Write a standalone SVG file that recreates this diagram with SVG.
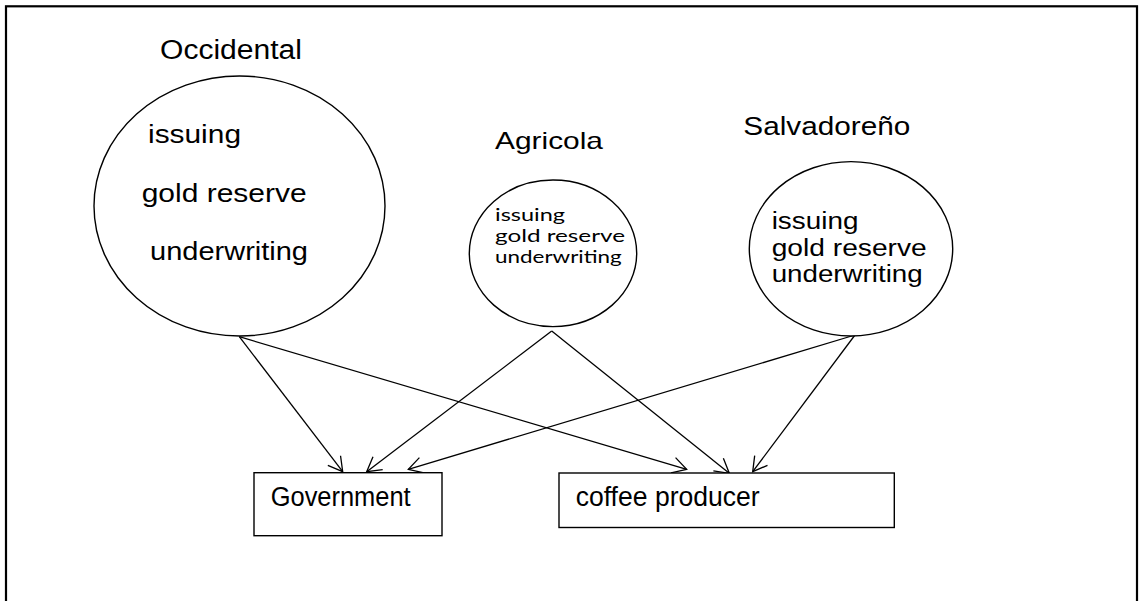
<svg xmlns="http://www.w3.org/2000/svg" width="1139" height="601" viewBox="0 0 1139 601">
<style>
.shape{fill:#fff;stroke:#000;stroke-width:1.4}
.t{font-family:"Liberation Sans",Arial,sans-serif;fill:#000}
.c{font-family:Lato,"Open Sans",sans-serif;fill:#000}
.conn line{stroke:#000;stroke-width:1.3;marker-end:url(#arr)}
</style>
<defs>
<marker id="arr" markerUnits="userSpaceOnUse" markerWidth="20" markerHeight="20" viewBox="-16 -10 18 20" refX="0" refY="0" orient="auto" overflow="visible">
<path d="M-14,-8 L0,0 L-14,8" fill="none" stroke="#000" stroke-width="1.3"/>
</marker>
</defs>
<rect x="0" y="0" width="1139" height="601" fill="#fff"/>
<rect id="frame" x="6" y="6.3" width="1131" height="640" fill="none" stroke="#000" stroke-width="2.2"/>
<g id="connectors" class="conn">
<line x1="239.3" y1="336.7" x2="342.7" y2="471.7"/>
<line x1="239.3" y1="336.7" x2="686.7" y2="469.3"/>
<line x1="551.7" y1="331" x2="366.7" y2="471.7"/>
<line x1="551.7" y1="331" x2="729.3" y2="473.3"/>
<line x1="855" y1="335" x2="408.3" y2="469.3"/>
<line x1="855" y1="335" x2="752.7" y2="471.7"/>
</g>
<g id="occidental">
<text class="t" x="160" y="58.5" font-size="27" textLength="142" lengthAdjust="spacingAndGlyphs">Occidental</text>
<ellipse class="shape" cx="239.5" cy="206" rx="145.5" ry="130"/>
<text class="t" x="148" y="143.3" font-size="25" textLength="93" lengthAdjust="spacingAndGlyphs">issuing</text>
<text class="t" x="141.7" y="202" font-size="25" textLength="165" lengthAdjust="spacingAndGlyphs">gold reserve</text>
<text class="t" x="150" y="260" font-size="25" textLength="158" lengthAdjust="spacingAndGlyphs">underwriting</text>
</g>
<g id="agricola">
<text class="t" x="495" y="149" font-size="24" textLength="108" lengthAdjust="spacingAndGlyphs">Agricola</text>
<ellipse class="shape" cx="553" cy="253.3" rx="83.7" ry="73.3"/>
<text class="c" x="495" y="220.7" font-size="17" textLength="70" lengthAdjust="spacingAndGlyphs">issuing</text>
<text class="c" x="495" y="241.7" font-size="17" textLength="130" lengthAdjust="spacingAndGlyphs">gold reserve</text>
<text class="c" x="495" y="263.3" font-size="17" textLength="126.7" lengthAdjust="spacingAndGlyphs">underwriting</text>
</g>
<g id="salvadoreno">
<text class="t" x="743.3" y="135.3" font-size="25" textLength="167" lengthAdjust="spacingAndGlyphs">Salvadoreño</text>
<ellipse class="shape" cx="851" cy="248.8" rx="101.7" ry="87.2"/>
<text class="t" x="771.7" y="229" font-size="23" textLength="86.7" lengthAdjust="spacingAndGlyphs">issuing</text>
<text class="t" x="771.7" y="255.5" font-size="23" textLength="155" lengthAdjust="spacingAndGlyphs">gold reserve</text>
<text class="t" x="771.7" y="282" font-size="23" textLength="151" lengthAdjust="spacingAndGlyphs">underwriting</text>
</g>
<g id="government">
<rect class="shape" x="254" y="472.7" width="188" height="63"/>
<text class="t" x="270.7" y="506" font-size="27" textLength="140" lengthAdjust="spacingAndGlyphs">Government</text>
</g>
<g id="coffee-producer">
<rect class="shape" x="559" y="473" width="335.3" height="54.5"/>
<text class="t" x="575.7" y="506" font-size="27" textLength="184" lengthAdjust="spacingAndGlyphs">coffee producer</text>
</g>
</svg>
